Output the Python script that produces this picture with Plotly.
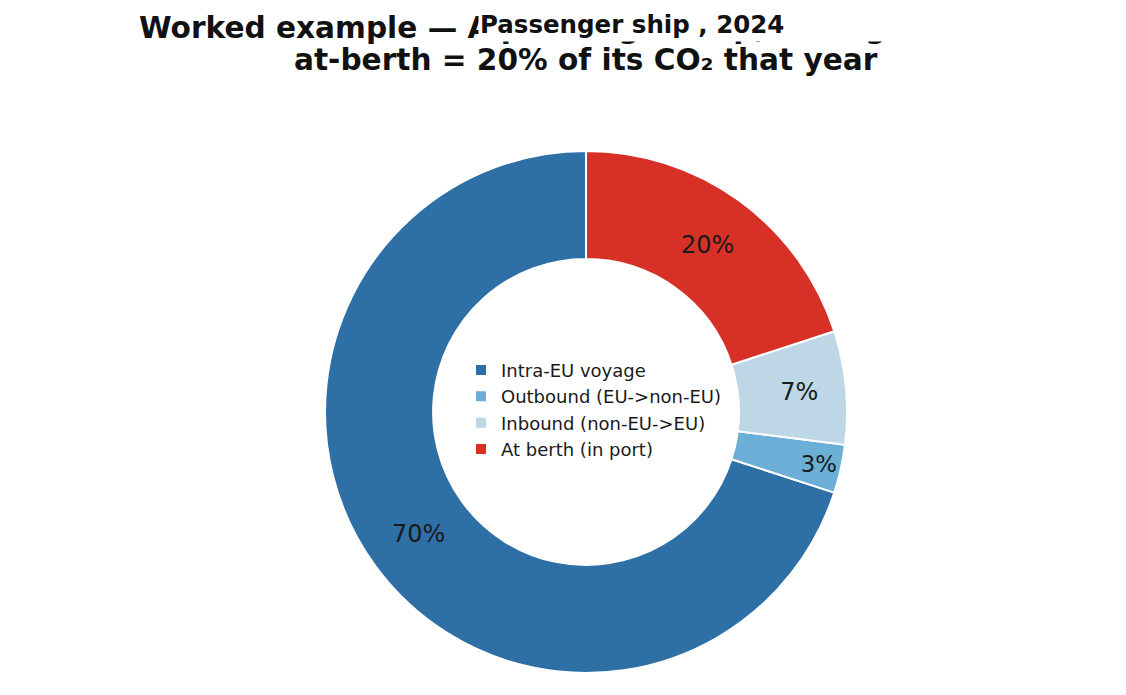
import plotly.graph_objects as go

labels = ["Intra-EU voyage", "Outbound (EU->non-EU)", "Inbound (non-EU->EU)", "At berth (in port)"]
values = [70, 3, 7, 20]
colors = ["#2e6fa6", "#6baed6", "#bdd7e7", "#d73027"]
title_line1 = "Worked example — A passenger ship, sailing in 2024:"
title_line2 = "at-berth = 20% of its CO₂ that year"
overlay_text = "Passenger ship , 2024"

# plotly places the first slice of a counter-clockwise pie ending at 12 o'clock;
# rotate so that the first slice starts at 12 o'clock instead
first_share = values[0] / sum(values)
rotation = 360 - first_share * 360

fig = go.Figure(go.Pie(
    labels=labels,
    values=values,
    sort=False,
    direction="counterclockwise",
    rotation=rotation,
    hole=0.586,
    marker=dict(colors=colors, line=dict(color="white", width=2)),
    texttemplate="%{percent:.0%}",
    textposition="inside",
    insidetextorientation="horizontal",
    textfont=dict(family="DejaVu Sans", size=24, color="#1a1a1a"),
    hoverinfo="label+percent",
    domain=dict(x=[0.2815, 0.7452], y=[0.0432, 0.7943]),
))

fig.update_layout(
    width=1126, height=695,
    paper_bgcolor="white", plot_bgcolor="white",
    margin=dict(l=0, r=0, t=0, b=0),
    font=dict(family="DejaVu Sans", color="#1a1a1a"),
    showlegend=True,
    legend=dict(
        x=0.4023, y=0.422, xanchor="left", yanchor="middle",
        font=dict(family="DejaVu Sans", size=18, color="#1a1a1a"),
        bgcolor="rgba(0,0,0,0)", tracegroupgap=0, itemsizing="constant",
    ),
    annotations=[
        dict(text="<b>" + title_line1 + "</b>",
             x=0.513, xref="paper", xanchor="center",
             y=0.9712, yref="paper", yanchor="middle",
             showarrow=False,
             font=dict(family="DejaVu Sans", size=29.6, color="#111111")),
        dict(text="<b>" + title_line2 + "</b>",
             x=0.513, xref="paper", xanchor="center",
             y=0.9252, yref="paper", yanchor="middle",
             showarrow=False,
             font=dict(family="DejaVu Sans", size=29.6, color="#111111")),
        dict(text="<b>" + overlay_text + "</b>",
             x=0.4174, xref="paper", xanchor="left",
             y=0.9763, yref="paper", yanchor="middle",
             width=590, height=31, align="left", valign="middle",
             showarrow=False, bgcolor="white", borderpad=1,
             font=dict(family="DejaVu Sans", size=24.5, color="#111111")),
    ],
)

fig.write_html("out.html")
